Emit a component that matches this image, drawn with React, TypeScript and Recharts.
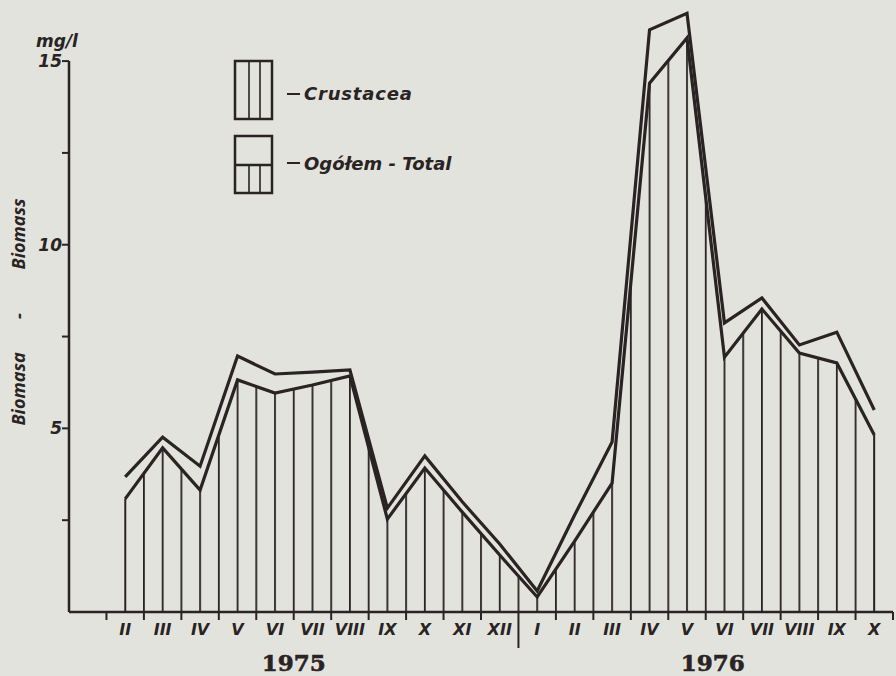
import React from 'react';
import { ComposedChart, Area, Line, XAxis, YAxis, ReferenceLine, Legend } from 'recharts';

// ---- data ----
const months = ['II', 'III', 'IV', 'V', 'VI', 'VII', 'VIII', 'IX', 'X', 'XI', 'XII', 'I', 'II', 'III', 'IV', 'V', 'VI', 'VII', 'VIII', 'IX', 'X'];
const crustacea = [3.08, 4.47, 3.32, 6.32, 5.96, 6.18, 6.43, 2.53, 3.92, 2.72, 1.55, 0.41, 1.93, 3.51, 14.4, 15.63, 6.94, 8.25, 7.05, 6.78, 4.82];
const total = [3.68, 4.76, 3.97, 6.97, 6.48, 6.53, 6.59, 2.83, 4.25, 3.0, 1.85, 0.57, 2.64, 4.63, 15.85, 16.3, 7.87, 8.55, 7.27, 7.62, 5.5];
const yTicks = [0, 2.5, 5, 7.5, 10, 12.5, 15];
const yTickLabels: Record<number, string> = { 5: '5', 10: '10', 15: '15' };
const xTicks = Array.from({ length: 22 }, (_, i) => i); // month boundaries
const years = [
  { label: '1975', at: 5 },
  { label: '1976', at: 16 },
];
const yearDivider = 11;
const legendItems = ['Crustacea', 'Ogółem - Total'];
const unitLabel = 'mg/l';
const axisTitle = ['Biomasa', '-', 'Biomass'];

const data = months.map((m, i) => ({ x: i + 0.5, month: m, crustacea: crustacea[i], total: total[i] }));

// ---- layout / style ----
const W = 896;
const H = 676;
const MARGIN = { top: 6, right: 3, left: 0, bottom: 0 };
const YAXIS_W = 69;
const XAXIS_H = 64;
const X_DOMAIN: [number, number] = [-1, 21];
const Y_DOMAIN: [number, number] = [0, 16.5];
const PLOT_LEFT = MARGIN.left + YAXIS_W;
const PLOT_W = W - PLOT_LEFT - MARGIN.right;
const UNIT = PLOT_W / (X_DOMAIN[1] - X_DOMAIN[0]);
const HALF = UNIT / 2;
const HATCH_W = 1.8;
const HATCH_X0 = PLOT_LEFT + (0 - X_DOMAIN[0]) * UNIT - HATCH_W / 2;

const INK = '#2a2323';
const PAPER = '#e3e3de';
const SANS = '"DejaVu Sans", sans-serif';
const SANS2 = '"Open Sans", sans-serif';
const SERIF = '"DejaVu Serif", serif';

const XTick = (props: any) => {
  const { x, y, payload } = props;
  const v = payload.value as number;
  const year = years.find((yy) => yy.at === v);
  return (
    <g>
      <line x1={x} x2={x} y1={y} y2={y + (v === yearDivider ? 36 : 8)} stroke={INK} strokeWidth={2} />
      {v < months.length && (
        <text x={x + HALF} y={y + 23} textAnchor="middle" fill={INK} fontFamily={SANS} fontStyle="italic" fontWeight="bold" fontSize={16}>
          {months[v]}
        </text>
      )}
      {year && (
        <text x={x + (v === 16 ? 7 : 0)} y={y + 59} textAnchor="middle" fill={INK} fontFamily={SERIF} fontWeight="bold" fontSize={23} stroke={INK} strokeWidth={0.6}>
          {year.label}
        </text>
      )}
    </g>
  );
};

const YTick = (props: any) => {
  const { x, y, payload } = props;
  const v = payload.value as number;
  const lab = yTickLabels[v];
  return (
    <g>
      {v > 0 && <line x1={x - 7} x2={x} y1={y} y2={y} stroke={INK} strokeWidth={2} />}
      {lab && (
        <text x={x - 7} y={y + 6} textAnchor="end" fill={INK} fontFamily={SANS} fontStyle="italic" fontWeight="bold" fontSize={17}>
          {lab}
        </text>
      )}
      {v === 15 && (
        <text x={x - 12} y={y - 14} textAnchor="middle" fill={INK} fontFamily={SANS} fontStyle="italic" fontWeight="bold" fontSize={17}>
          {unitLabel}
        </text>
      )}
    </g>
  );
};

const YTitle = () => {
  const cx = 19;
  const cy = 312;
  const common = { fill: INK, fontFamily: SANS2, fontStyle: 'italic', fontWeight: 700, fontSize: 18, textAnchor: 'middle' as const };
  return (
    <g transform={`rotate(-90 ${cx} ${cy})`}>
      <text x={cx - 77} y={cy + 6} {...common}>
        {axisTitle[0]}
      </text>
      <text x={cx - 4} y={cy + 6} {...common}>
        {axisTitle[1]}
      </text>
      <text x={cx + 78} y={cy + 6} {...common}>
        {axisTitle[2]}
      </text>
    </g>
  );
};

const LegendBox = () => (
  <svg width={260} height={150} style={{ overflow: 'visible' }}>
    <rect x={10} y={11} width={37} height={58} fill="none" stroke={INK} strokeWidth={2.5} />
    <line x1={24} x2={24} y1={11} y2={69} stroke={INK} strokeWidth={1.6} />
    <line x1={35} x2={35} y1={11} y2={69} stroke={INK} strokeWidth={1.6} />
    <line x1={62} x2={75} y1={44} y2={44} stroke={INK} strokeWidth={2} />
    <text x={79} y={50} fill={INK} fontFamily={SANS} fontStyle="italic" fontWeight="bold" fontSize={18} letterSpacing={0.8}>
      {legendItems[0]}
    </text>
    <rect x={10} y={86} width={37} height={57} fill="none" stroke={INK} strokeWidth={2.5} />
    <line x1={10} x2={47} y1={115} y2={115} stroke={INK} strokeWidth={2.5} />
    <line x1={24} x2={24} y1={115} y2={143} stroke={INK} strokeWidth={1.6} />
    <line x1={35} x2={35} y1={115} y2={143} stroke={INK} strokeWidth={1.6} />
    <line x1={62} x2={75} y1={113} y2={113} stroke={INK} strokeWidth={2} />
    <text x={79} y={120} fill={INK} fontFamily={SANS} fontStyle="italic" fontWeight="bold" fontSize={18}>
      {legendItems[1]}
    </text>
  </svg>
);

export default function App() {
  const first = data[0];
  const last = data[data.length - 1];
  return (
    <div style={{ position: 'absolute', left: 0, top: 0, width: W, height: H, background: PAPER }}>
      <ComposedChart width={W} height={H} data={data} margin={MARGIN}>
        <defs>
          <pattern id="vhatch" patternUnits="userSpaceOnUse" x={HATCH_X0} y={0} width={HALF} height={H}>
            <rect x={0} y={0} width={HATCH_W} height={H} fill={INK} />
          </pattern>
        </defs>
        <XAxis
          type="number"
          dataKey="x"
          domain={X_DOMAIN}
          ticks={xTicks}
          interval={0}
          height={XAXIS_H}
          tickSize={0}
          tickMargin={0}
          tickLine={false}
          axisLine={{ stroke: INK, strokeWidth: 2.5 }}
          tick={<XTick />}
        />
        <YAxis
          type="number"
          domain={Y_DOMAIN}
          ticks={yTicks}
          interval={0}
          width={YAXIS_W}
          tickSize={0}
          tickMargin={0}
          tickLine={false}
          axisLine={false}
          tick={<YTick />}
          label={<YTitle />}
        />
        <ReferenceLine segment={[{ x: X_DOMAIN[0], y: 0 }, { x: X_DOMAIN[0], y: 15 }]} stroke={INK} strokeWidth={2.5} />
        <Area
          type="linear"
          dataKey="crustacea"
          stroke="none"
          fill="url(#vhatch)"
          fillOpacity={1}
          isAnimationActive={false}
          legendType="none"
        />
        <ReferenceLine segment={[{ x: first.x, y: 0 }, { x: first.x, y: first.crustacea }]} stroke={INK} strokeWidth={1.8} />
        <ReferenceLine segment={[{ x: last.x, y: 0 }, { x: last.x, y: last.crustacea }]} stroke={INK} strokeWidth={1.8} />
        <Line type="linear" dataKey="crustacea" stroke={INK} strokeWidth={3.2} dot={false} strokeLinejoin="miter" isAnimationActive={false} />
        <Line type="linear" dataKey="total" stroke={INK} strokeWidth={3.2} dot={false} strokeLinejoin="miter" isAnimationActive={false} />
        <Legend
          layout="horizontal"
          verticalAlign="middle"
          align="center"
          content={() => <LegendBox />}
          wrapperStyle={{ position: 'absolute', left: 225, top: 50, width: 260, height: 150 }}
        />
      </ComposedChart>
    </div>
  );
}
